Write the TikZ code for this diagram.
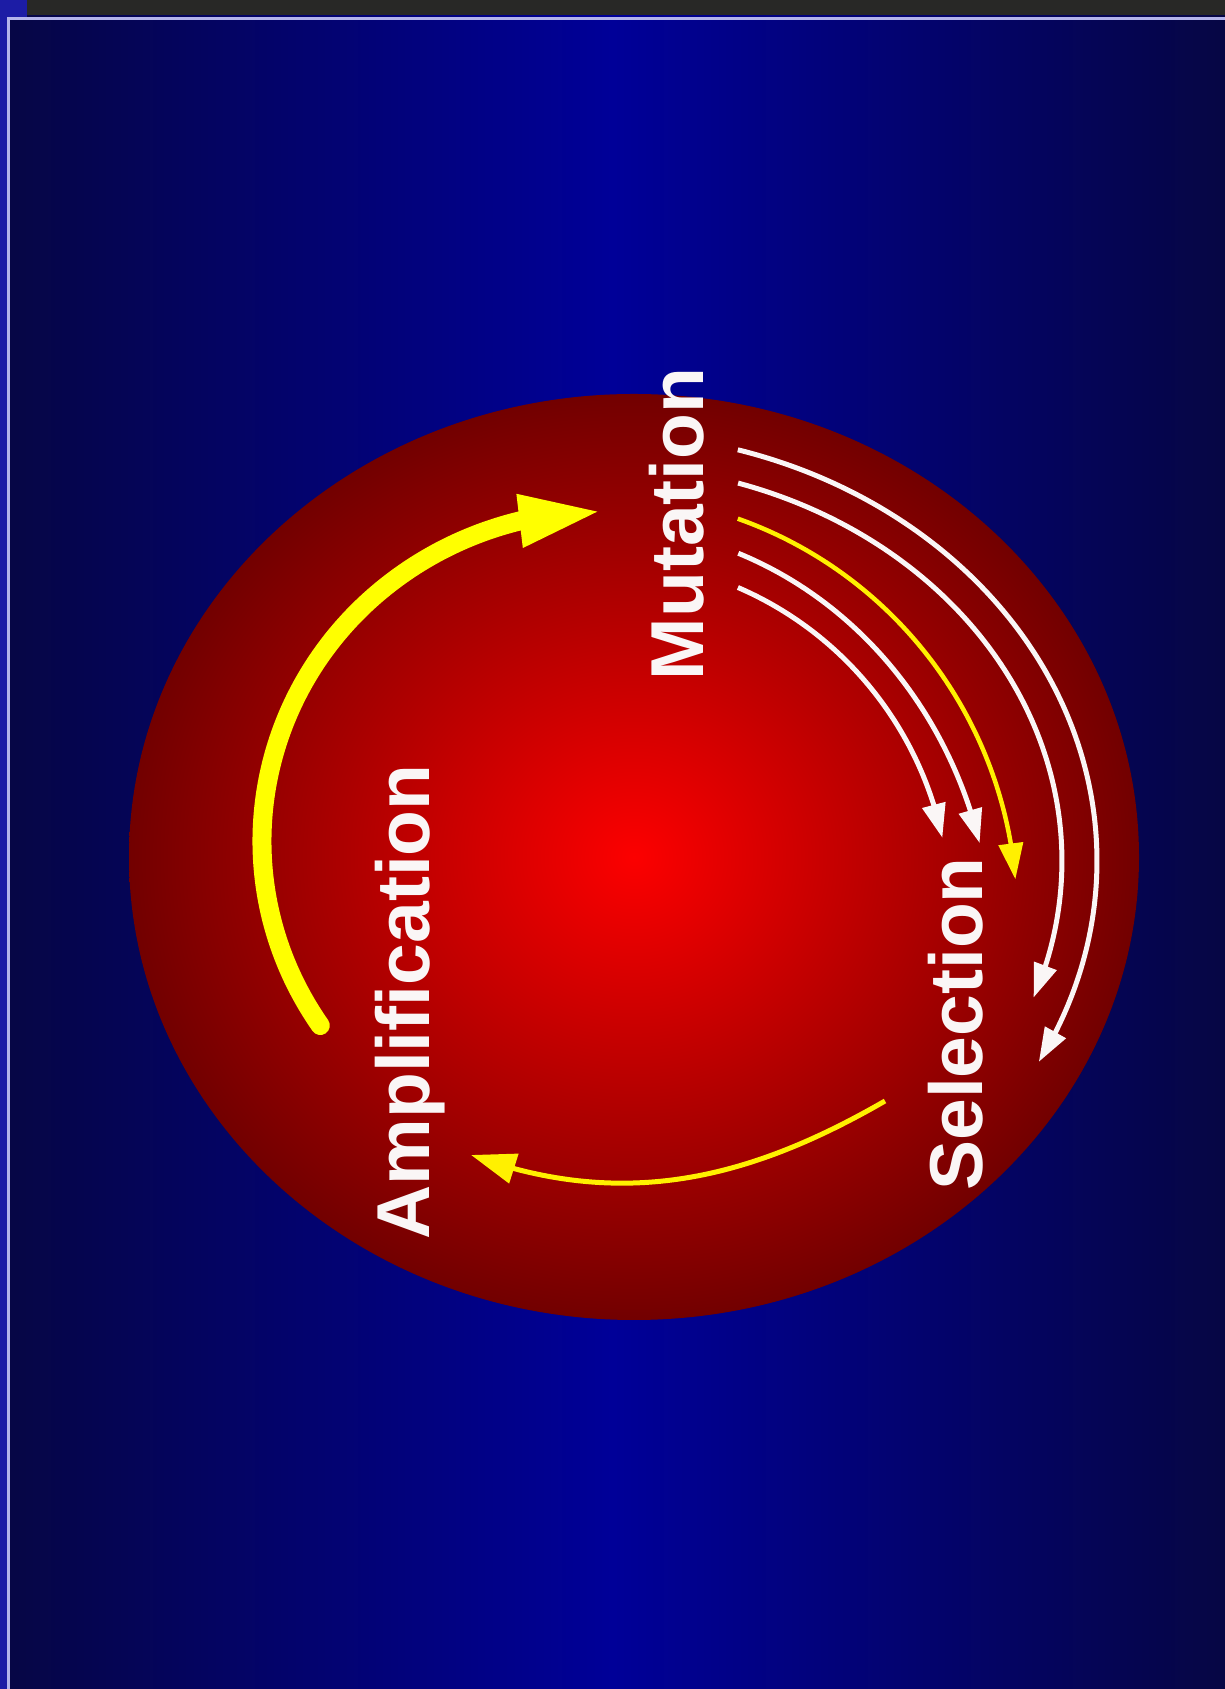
\documentclass[tikz,border=0pt]{standalone}
\usepackage{fontspec}
\setmainfont{Liberation Sans}
\usetikzlibrary{arrows.meta,bending}
\definecolor{navyedge}{RGB}{6,6,68}
\definecolor{navymid}{RGB}{0,0,152}
\definecolor{redin}{RGB}{252,0,0}
\definecolor{redout}{RGB}{114,0,0}
\definecolor{ylw}{RGB}{255,240,0}
\definecolor{ylwthick}{RGB}{255,255,0}
\definecolor{offwhite}{RGB}{250,246,246}
\definecolor{topgray}{RGB}{40,40,38}
\definecolor{edgeblue}{RGB}{28,28,165}
\definecolor{frameline}{RGB}{180,180,235}
\pgfdeclareradialshading{redball}{\pgfpoint{0bp}{0bp}}{color(0bp)=(redin); color(25bp)=(redout); color(50bp)=(redout)}
\tikzset{
  lbl/.style={text=offwhite, inner sep=0pt, rotate=90, anchor=base,
    font=\fontsize{75pt}{80pt}\selectfont\bfseries},
  whitearc/.style={draw=offwhite, line width=5pt, -{Triangle[length=34pt,width=23pt]}},
  yelarc/.style={draw=ylw, line width=4.5pt, -{Triangle[length=36pt,width=24pt]}},
  thickarrow/.style={draw=ylwthick, line width=19pt, line cap=round, -{Triangle[length=84pt,width=48pt]}},
  thinarrow/.style={draw=ylw, line width=5pt, -{Triangle[length=45pt,width=30pt]}}
}
\begin{document}
\begin{tikzpicture}[x=1pt,y=1pt]
\useasboundingbox (0,0) rectangle (1225,1689);
% background
\shade[left color=navyedge, right color=navyedge, middle color=navymid] (0,0) rectangle (1225,1689);
\fill[edgeblue] (0,0) rectangle (7,1689);
\fill[edgeblue] (0,1672) rectangle (27,1689);
\fill[topgray] (27,1674) rectangle (1225,1689);
\draw[frameline, line width=3pt] (8.5,0) -- (8.5,1670.5) -- (1225,1670.5);
% red ball
\shade[shading=redball] (634,832) ellipse [x radius=505, y radius=463];
% labels
\node[lbl] (mut) at (703,1165) {Mutation};
\node[lbl] (amp) at (429,687) {Amplification};
\node[lbl] (sel) at (982,665) {Selection};
% mutation fan
\coordinate (s1) at (737.8,1239.2);
\coordinate (s2) at (738.1,1205.9);
\coordinate (sy) at (737.8,1170.3);
\coordinate (s4) at (738.3,1135.7);
\coordinate (s5) at (737.9,1101.5);
\draw[whitearc] (s1) arc[start angle=73.9, end angle=-28, x radius=497, y radius=428];
\draw[whitearc] (s2) arc[start angle=72.6, end angle=-20.2, x radius=462, y radius=396];
\draw[yelarc] (sy) arc[start angle=70.7, end angle=5, x radius=417, y radius=421];
\draw[whitearc] (s4) arc[start angle=69.4, end angle=15, x radius=393, y radius=428];
\draw[whitearc] (s5) arc[start angle=66.8, end angle=12, x radius=350, y radius=352];
% amplification arrow
\coordinate (a1) at (320.3,663.5);
\draw[thickarrow] (a1) arc[start angle=214, end angle=90, x radius=341, y radius=330];
% selection to amplification
\coordinate (b1) at (885,588);
\coordinate (b2) at (471,534);
\draw[thinarrow] (b1) .. controls +(210:160) and +(340:160) .. (b2);
\end{tikzpicture}
\end{document}
